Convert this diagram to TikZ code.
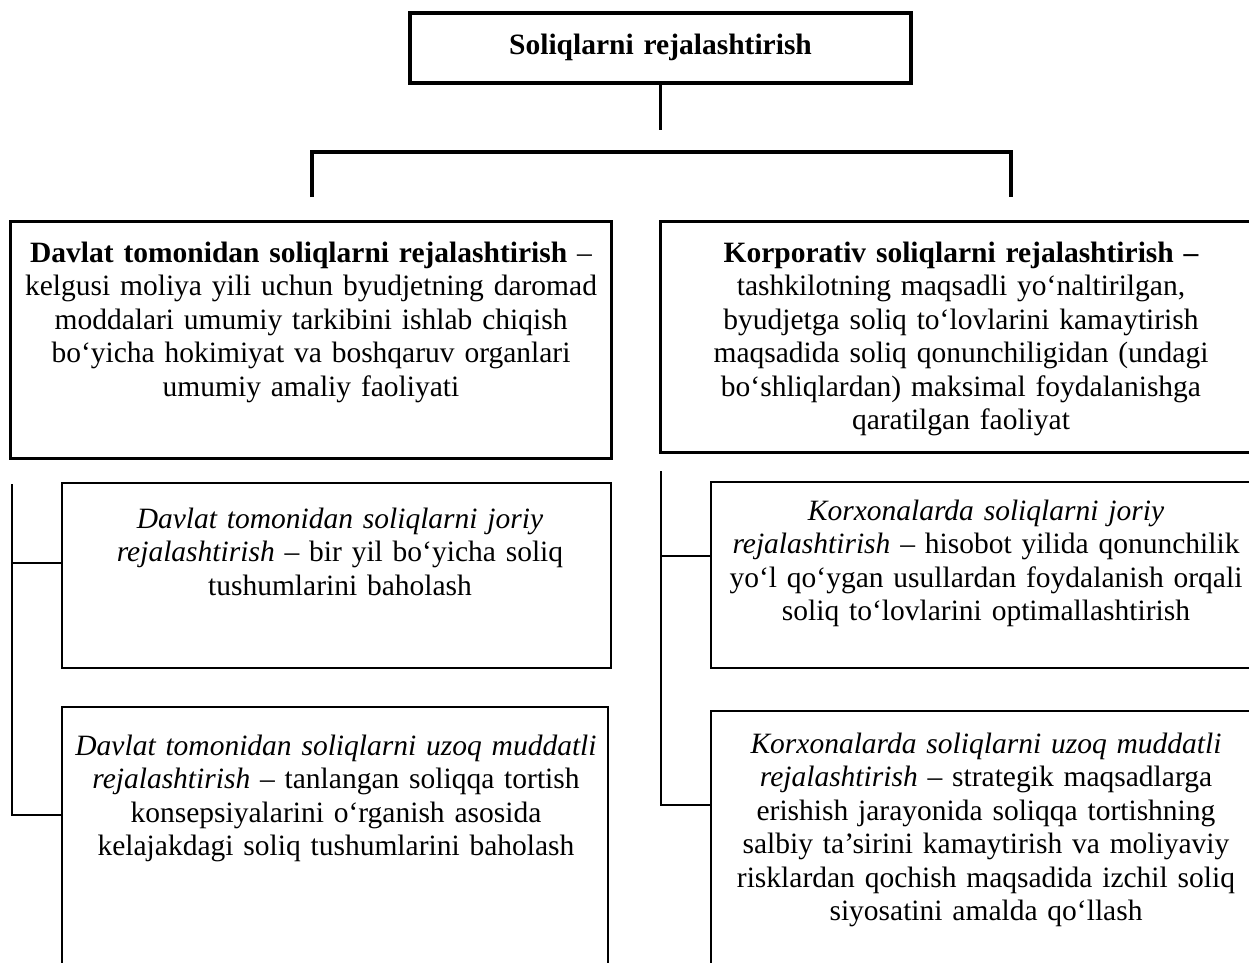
\documentclass[tikz,border=0pt]{standalone}
\usepackage{fontspec}
\setmainfont{Liberation Serif}
\begin{document}
\begin{tikzpicture}[x=1pt,y=-1pt,
  thickbox/.style={draw, line width=3pt, inner sep=0pt, outer sep=0pt, anchor=north west},
  thinbox/.style={draw, line width=1.7pt, inner sep=0pt, outer sep=0pt, anchor=north west},
  txt/.style={inner sep=0pt, anchor=base, align=center, text width=620pt,
    font=\fontsize{29.5}{33.5}\selectfont},
  bigconn/.style={line width=3.2pt},
  smallconn/.style={line width=1.7pt}]
\useasboundingbox (0,0) rectangle (1249,962);
\clip (0,0) rectangle (1249,962);
% top
\node[thickbox, line width=3.6pt, minimum width=501pt, minimum height=70pt] (top) at (410,13) {};
\node[txt] (toptxt) at (660.5,54) {\textbf{Soliqlarni rejalashtirish}};
% big boxes
\node[thickbox, minimum width=601pt, minimum height=237pt] (L) at (10,221) {};
\node[thickbox, minimum width=620pt, minimum height=231pt] (R) at (660,221) {};
\node[txt] (Ltxt) at (311,262) {\textbf{Davlat tomonidan soliqlarni rejalashtirish} –\\
kelgusi moliya yili uchun byudjetning daromad\\
moddalari umumiy tarkibini ishlab chiqish\\
bo‘yicha hokimiyat va boshqaruv organlari\\
umumiy amaliy faoliyati};
\node[txt] (Rtxt) at (961,262) {\textbf{Korporativ soliqlarni rejalashtirish –}\\
tashkilotning maqsadli yo‘naltirilgan,\\
byudjetga soliq to‘lovlarini kamaytirish\\
maqsadida soliq qonunchiligidan (undagi\\
bo‘shliqlardan) maksimal foydalanishga\\
qaratilgan faoliyat};
% sub boxes
\node[thinbox, minimum width=549pt, minimum height=185pt] (Ls1) at (62,483) {};
\node[thinbox, minimum width=546pt, minimum height=300pt] (Ls2) at (62,707) {};
\node[thinbox, minimum width=560pt, minimum height=186pt] (Rs1) at (711,482) {};
\node[thinbox, minimum width=560pt, minimum height=300pt] (Rs2) at (711,711) {};
\node[txt] (Ls1txt) at (340,528) {\textit{Davlat tomonidan soliqlarni joriy}\\
\textit{rejalashtirish} – bir yil bo‘yicha soliq\\
tushumlarini baholash};
\node[txt] (Ls2txt) at (336,755) {\textit{Davlat tomonidan soliqlarni uzoq muddatli}\\
\textit{rejalashtirish} – tanlangan soliqqa tortish\\
konsepsiyalarini o‘rganish asosida\\
kelajakdagi soliq tushumlarini baholash};
\node[txt] (Rs1txt) at (986,520) {\textit{Korxonalarda soliqlarni joriy}\\
\textit{rejalashtirish} – hisobot yilida qonunchilik\\
yo‘l qo‘ygan usullardan foydalanish orqali\\
soliq to‘lovlarini optimallashtirish};
\node[txt] (Rs2txt) at (986,753) {\textit{Korxonalarda soliqlarni uzoq muddatli}\\
\textit{rejalashtirish} – strategik maqsadlarga\\
erishish jarayonida soliqqa tortishning\\
salbiy ta’sirini kamaytirish va moliyaviy\\
risklardan qochish maqsadida izchil soliq\\
siyosatini amalda qo‘llash};
% top connectors
\coordinate (topend) at (660.5,130);
\draw[bigconn] (top.south) -- (topend);
\coordinate (barl) at (312,152);
\coordinate (barr) at (1011,152);
\coordinate (barld) at (312,197);
\coordinate (barrd) at (1011,197);
\draw[bigconn] (barld) -- (barl) -- (barr) -- (barrd);
% left tree
\coordinate (lvt) at (12,484);
\coordinate (lv1) at (12,563);
\coordinate (lvb) at (12,815);
\draw[smallconn] (lvt) -- (lvb) -- (lvb -| Ls2.west);
\draw[smallconn] (lv1) -- (lv1 -| Ls1.west);
% right tree
\coordinate (rvt) at (661,471);
\coordinate (rv1) at (661,556);
\coordinate (rvb) at (661,805);
\draw[smallconn] (rvt) -- (rvb) -- (rvb -| Rs2.west);
\draw[smallconn] (rv1) -- (rv1 -| Rs1.west);
\end{tikzpicture}
\end{document}
